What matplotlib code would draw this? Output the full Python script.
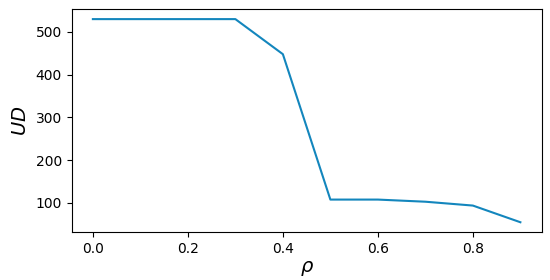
import numpy as np
import matplotlib
matplotlib.use('Agg')
import matplotlib.pyplot as plt

rho = [0.0, 0.1, 0.2, 0.3, 0.4, 0.5, 0.6, 0.7, 0.8, 0.9]
ud = [530, 530, 530, 530, 448, 108, 108, 103, 94, 55]

fig, ax = plt.subplots(figsize=(5.5, 2.8), dpi=100)
ax.plot(rho, ud, color='#1386bd', linewidth=1.5)
ax.set_xlabel(r'$\rho$', fontsize=14, labelpad=2)
ax.set_ylabel(r'$UD$', fontsize=14)
ax.tick_params(labelsize=10)
fig.subplots_adjust(left=0.13, right=0.985, top=0.968, bottom=0.17)
plt.savefig('out.png', dpi=100)
